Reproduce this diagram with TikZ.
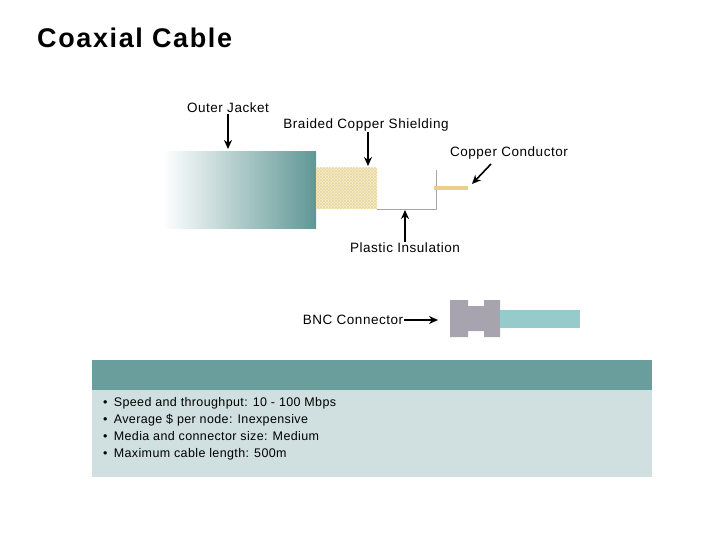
\documentclass[tikz,border=0pt]{standalone}
\usepackage{fontspec}
\setmainfont{Liberation Sans}
\usetikzlibrary{arrows.meta,patterns}
\definecolor{jacket}{HTML}{5F9795}
\definecolor{braid}{HTML}{E8D79A}
\definecolor{bncgray}{HTML}{A7A4B0}
\definecolor{bnctube}{HTML}{96CBCB}
\definecolor{head}{HTML}{6A9E9C}
\definecolor{panel}{HTML}{D0E0E0}
\tikzset{
  lbl/.style={font=\fontsize{13.5}{15}\selectfont\addfontfeature{LetterSpace=4}, inner sep=1pt},
  pointer/.style={-{Stealth[length=9pt,width=8pt]}, line width=1.6pt}
}
\begin{document}
\begin{tikzpicture}[x=1pt,y=-1pt]
				\useasboundingbox (0,0) rectangle (720,540);
				% Title
				\node[anchor=west, font=\fontsize{27}{30}\selectfont\bfseries\addfontfeature{LetterSpace=6}, inner sep=0pt] (title) at (37,38) {Coaxial Cable};
				
				% Outer jacket
				\shade[left color=white, right color=jacket] (163,152) rectangle (316,229);
				
				% Braided shielding
				\fill[braid!45] (316,168) rectangle (377,209);
				\fill[pattern=crosshatch, pattern color=braid] (316,168) rectangle (377,209);
				
				% Plastic insulation
				\draw[gray!70, line width=0.8pt] (377,209) -- (436,209) -- (436,170);
				
				% Copper conductor
				\draw[braid!90!orange, line width=3.5pt] (434,188) -- (468,188);
				
				% BNC connector
				\fill[bncgray] (450,300) -- (468,300) -- (468,306) -- (484,306) -- (484,300) -- (500,300)
					-- (500,337) -- (484,337) -- (484,331) -- (468,331) -- (468,337) -- (450,337) -- cycle;
				\fill[bnctube] (500,310) rectangle (580,328);
				
				% Labels and arrows
				\node[lbl] (jacket) at (228,108) {Outer Jacket};
				\coordinate (jacketend) at (228,149);
				\draw[pointer] (jacket.south) -- (jacketend);
				
				\node[lbl] (shield) at (366,125) {Braided Copper Shielding};
				\coordinate (shieldend) at (368,166);
				\draw[pointer] (shield.south -| shieldend) -- (shieldend);
				
				\node[lbl] (copper) at (509,153) {Copper Conductor};
				\coordinate (copperend) at (472,184);
				\draw[pointer] (491,164) -- (copperend);
				
				\node[lbl] (insul) at (405,248) {Plastic Insulation};
				\coordinate (insulend) at (405,210);
				\draw[pointer] (insul.north) -- (insulend);
				
				\node[lbl] (bnc) at (353,320) {BNC Connector};
				\coordinate (bncend) at (438,320);
				\draw[pointer] (bnc.east) -- (bncend);
				
				% Info panel
				\fill[head] (92,360) rectangle (652,390);
				\fill[panel] (92,390) rectangle (652,477);
				\node[anchor=north west, align=left, inner sep=0pt,
					font=\fontsize{12.5}{17}\selectfont\addfontfeature{LetterSpace=3}] (info) at (103,397)
					{\textbullet\enspace Speed and throughput: 10 - 100 Mbps\\
					 \textbullet\enspace Average \$ per node: Inexpensive\\
					 \textbullet\enspace Media and connector size: Medium\\
					 \textbullet\enspace Maximum cable length: 500m};
			\end{tikzpicture}
\end{document}
